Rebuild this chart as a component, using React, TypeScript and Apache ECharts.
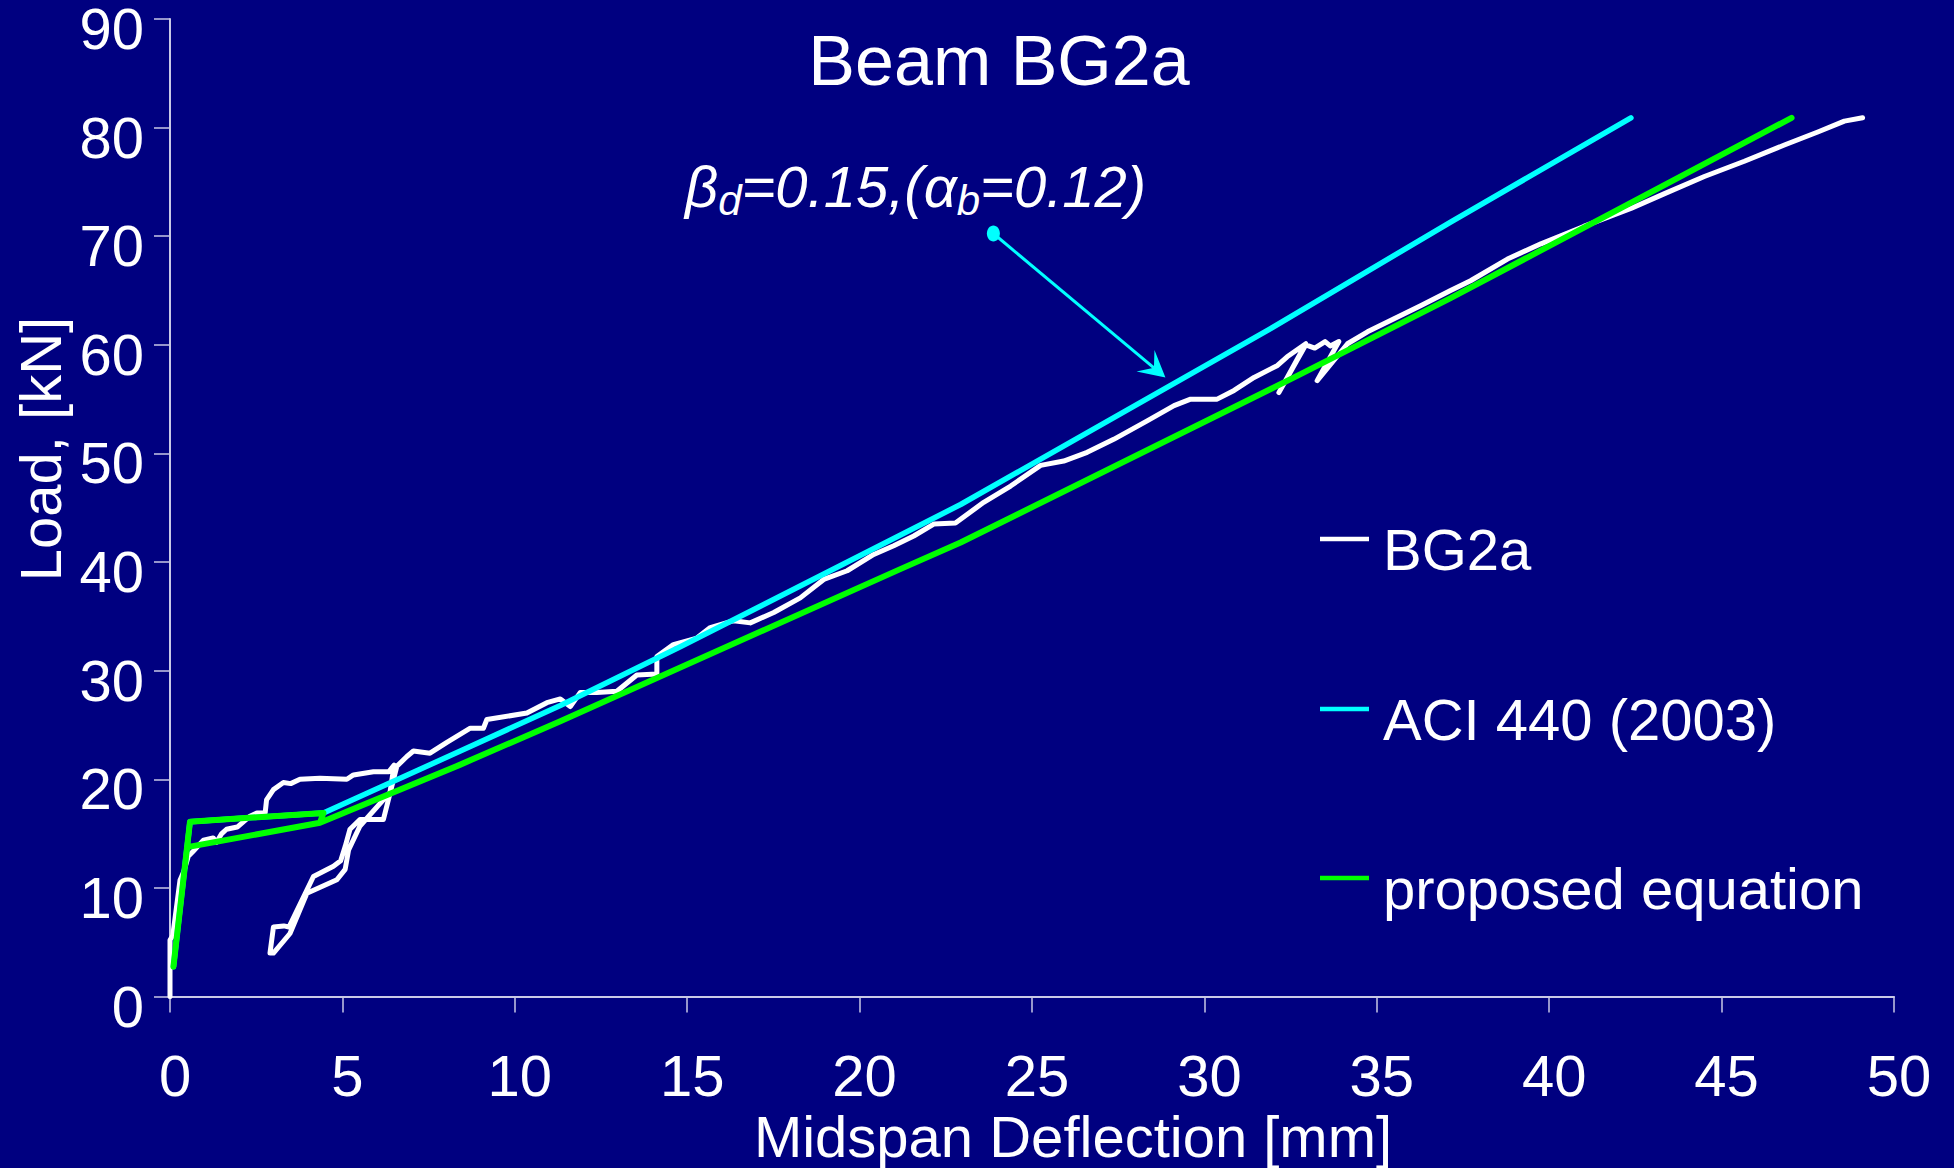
import React, { useEffect, useRef } from "react";
import * as echarts from "echarts";

const FONT = "'Liberation Sans', Arial, Helvetica, sans-serif";

// Axis ranges / ticks
const X_MIN = 0, X_MAX = 50, X_STEP = 5;
const Y_MIN = 0, Y_MAX = 90, Y_STEP = 10;

// Test curve BG2a: [deflection mm, load kN]
const bg2a: [number, number][] = [
  [0, 0], [0, 5.2], [0.08, 5.6], [0.2, 8.5], [0.29, 10.7], [0.4, 11.5], [0.53, 12.9], [0.68, 13.4],
  [0.97, 14.4], [1.25, 14.6], [1.35, 14.2], [1.5, 15.0], [1.64, 15.4], [1.95, 15.6], [2.32, 16.6],
  [2.52, 16.9], [2.76, 16.9], [2.8, 18.1], [3.0, 19.05], [3.29, 19.7], [3.5, 19.6], [3.77, 20.0],
  [4.35, 20.1], [5.13, 20.0], [5.32, 20.4], [5.9, 20.7], [6.35, 20.7], [6.5, 21.3],
  [6.38, 18.8], [5.51, 15.7], [5.18, 13.5], [5.08, 11.7], [4.84, 10.75], [3.97, 9.5], [3.48, 5.8],
  [3.0, 4.0], [2.9, 4.0],
  [3.0, 6.4], [3.3, 6.5], [3.45, 6.4], [3.97, 9.8], [4.16, 11.05], [4.74, 12.0], [4.95, 12.5],
  [5.08, 13.8], [5.22, 15.4], [5.51, 16.3], [6.19, 16.3], [6.58, 21.2],
  [6.87, 22.1], [7.06, 22.6], [7.54, 22.4], [8.03, 23.4], [8.71, 24.7], [9.09, 24.7], [9.19, 25.5],
  [10.35, 26.1], [10.93, 27.05], [11.32, 27.4], [11.61, 26.7], [11.9, 28.0], [12.38, 28.0],
  [12.96, 28.1], [13.54, 29.6], [14.12, 29.7], [14.12, 31.3], [14.6, 32.4], [15.28, 33.0],
  [15.67, 33.97], [16.35, 34.6], [16.83, 34.4], [17.51, 35.35], [18.28, 36.7], [18.96, 38.4],
  [19.64, 39.2], [20.41, 40.7], [20.99, 41.5], [21.57, 42.4], [22.15, 43.5], [22.78, 43.6],
  [23.6, 45.5], [24.38, 47.0], [25.25, 48.9], [25.92, 49.3], [26.6, 50.1], [27.37, 51.3],
  [28.34, 53.0], [29.12, 54.4], [29.6, 55.0], [30.37, 55.0], [30.86, 55.8], [31.44, 57.0],
  [32.12, 58.1], [32.4, 58.9], [32.94, 60.1], [32.16, 55.6], [32.94, 60.0], [33.2, 59.7],
  [33.5, 60.3], [33.65, 59.9], [33.9, 60.3], [33.27, 56.7], [34.15, 60.1], [34.73, 61.2],
  [35.5, 62.4], [36.27, 63.6], [37.14, 65.0], [37.72, 65.9], [38.79, 67.9], [39.76, 69.3],
  [41.0, 70.9], [42.37, 72.55], [43.33, 73.9], [44.5, 75.5], [45.66, 76.9], [46.82, 78.4],
  [47.79, 79.6], [48.56, 80.6], [49.09, 80.9],
];

// ACI 440 (2003) prediction
const aci440: [number, number][] = [
  [0.1, 2.75], [0.58, 16.1], [4.45, 16.9], [8.42, 22.6], [11.32, 26.8], [14.8, 32.2],
  [22.93, 45.3], [31.92, 61.5], [37.14, 71.3], [42.37, 80.9],
];

// Proposed equation
const proposed: [number, number][] = [
  [0.1, 2.75], [0.58, 16.1], [4.45, 16.9], [4.35, 16.0], [0.58, 13.8], [4.35, 16.0],
  [8.42, 21.35], [11.32, 25.35], [21.18, 39.35], [22.93, 41.8], [32.79, 57.3],
  [37.14, 64.3], [47.03, 80.9],
];

// Annotation arrow: from label dot to the ACI line
const arrowFrom: [number, number] = [23.88, 70.25];
const arrowTo: [number, number] = [28.87, 57.0];

const seriesNames = ["BG2a", "ACI 440 (2003)", "proposed equation"];
const seriesColors = ["#ffffff", "#00ffff", "#00ff00"];
const seriesWidths = [5, 5.5, 6];

const titleText = "Beam BG2a";
const xName = "Midspan Deflection [mm]";
const yName = "Load, [kN]";

export default function App() {
  const ref = useRef<HTMLDivElement>(null);
  useEffect(() => {
    if (!ref.current) return;
    const chart = echarts.init(ref.current, undefined, { renderer: "svg" });
    const axisColor = "#c8c8e6";
    const datasets = [bg2a, aci440, proposed];
    const option: any = {
      animation: false,
      backgroundColor: "#000080",
      grid: { left: 170, right: 60, top: 19, bottom: 171.5, containLabel: false, outerBoundsMode: "none" },
      xAxis: {
        type: "value",
        min: X_MIN,
        max: X_MAX,
        interval: X_STEP,
        axisLine: { show: true, onZero: false, lineStyle: { color: axisColor, width: 2 } },
        axisTick: { show: true, length: 16, lineStyle: { color: axisColor, width: 1.5 } },
        axisLabel: { color: "#ffffff", fontSize: 58, fontFamily: FONT, margin: 50, padding: [0, 0, 0, 10] },
        splitLine: { show: false },
      },
      yAxis: {
        type: "value",
        min: Y_MIN,
        max: Y_MAX,
        interval: Y_STEP,
        axisLine: { show: true, onZero: false, lineStyle: { color: axisColor, width: 2 } },
        axisTick: { show: true, length: 16, lineStyle: { color: axisColor, width: 1.5 } },
        axisLabel: { color: "#ffffff", fontSize: 58, fontFamily: FONT, margin: 26, verticalAlign: "top", lineHeight: 19 },
        splitLine: { show: false },
      },
      series: datasets.map((d, i) => ({
        type: "line",
        name: seriesNames[i],
        data: d,
        symbol: "none",
        showSymbol: false,
        lineStyle: { color: seriesColors[i], width: seriesWidths[i], join: "round", cap: "round" },
        z: 2 + i,
      })),
    };
    chart.setOption(option);

    const p0 = chart.convertToPixel({ gridIndex: 0 }, arrowFrom) as number[];
    const p1 = chart.convertToPixel({ gridIndex: 0 }, arrowTo) as number[];
    const dx = p1[0] - p0[0], dy = p1[1] - p0[1];
    const len = Math.sqrt(dx * dx + dy * dy);
    const ux = dx / len, uy = dy / len;
    const nx = -uy, ny = ux;
    const head = 26, half = 14, notch = 15;
    const headPts = [
      [p1[0], p1[1]],
      [p1[0] - head * ux + half * nx, p1[1] - head * uy + half * ny],
      [p1[0] - notch * ux, p1[1] - notch * uy],
      [p1[0] - head * ux - half * nx, p1[1] - head * uy - half * ny],
    ];

    const legendY = [539, 709, 878];
    const legendGraphics: any[] = [];
    seriesNames.forEach((n, i) => {
      legendGraphics.push({
        type: "line",
        shape: { x1: 1320, y1: legendY[i], x2: 1369, y2: legendY[i] },
        style: { stroke: seriesColors[i], lineWidth: 4.5 },
        z: 10,
      });
      legendGraphics.push({
        type: "text",
        x: 1383,
        y: legendY[i] + 10.5,
        style: { text: n, fill: "#ffffff", font: `58px ${FONT}`, textAlign: "left", verticalAlign: "middle" },
        z: 10,
      });
    });

    chart.setOption({
      graphic: [
        {
          type: "text",
          x: 999,
          y: 61,
          style: { text: titleText, fill: "#ffffff", font: `70px ${FONT}`, textAlign: "center", verticalAlign: "middle" },
          z: 10,
        },
        {
          type: "text",
          x: 1073,
          y: 1136,
          style: { text: xName, fill: "#ffffff", font: `58px ${FONT}`, textAlign: "center", verticalAlign: "middle" },
          z: 10,
        },
        {
          type: "text",
          x: 40,
          y: 449,
          rotation: Math.PI / 2,
          style: { text: yName, fill: "#ffffff", font: `58px ${FONT}`, textAlign: "center", verticalAlign: "middle" },
          z: 10,
        },
        {
          type: "text",
          x: 685,
          y: 151,
          style: {
            text: "{m|β}{s|d}{m|=0.15,(α}{s|b}{m|=0.12)}",
            fill: "#ffffff",
            textAlign: "left",
            verticalAlign: "top",
            rich: {
              m: { fontSize: 58, fontStyle: "italic", fontFamily: FONT, lineHeight: 70, fill: "#ffffff", color: "#ffffff" },
              s: { fontSize: 42, fontStyle: "italic", fontFamily: FONT, lineHeight: 32, verticalAlign: "bottom", fill: "#ffffff", color: "#ffffff" },
            },
          },
          z: 10,
        },
        {
          type: "line",
          shape: { x1: p0[0], y1: p0[1], x2: p1[0] - notch * ux, y2: p1[1] - notch * uy },
          style: { stroke: "#00ffff", lineWidth: 3 },
          z: 10,
        },
        {
          type: "ellipse",
          shape: { cx: p0[0], cy: p0[1], rx: 6.5, ry: 8 },
          style: { fill: "#00ffff" },
          z: 10,
        },
        {
          type: "polygon",
          shape: { points: headPts },
          style: { fill: "#00ffff" },
          z: 10,
        },
        ...legendGraphics,
      ],
    });

    return () => chart.dispose();
  }, []);
  return <div ref={ref} style={{ position: "fixed", left: 0, top: 0, width: 1954, height: 1168 }} />;
}
